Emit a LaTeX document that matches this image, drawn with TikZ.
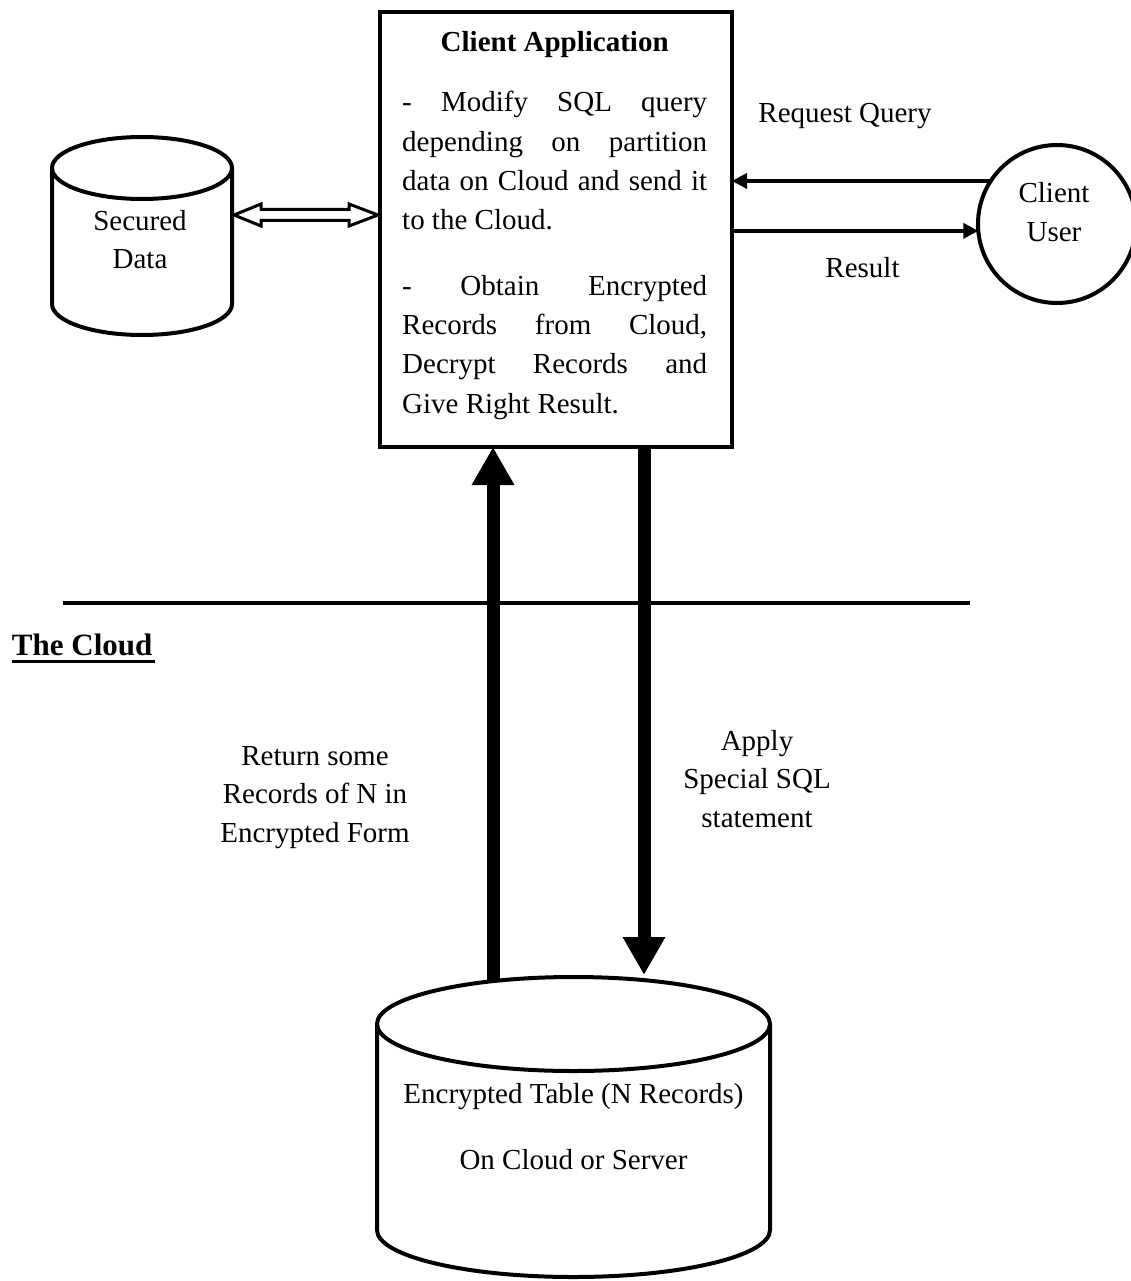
\documentclass[tikz,border=0pt]{standalone}
\usepackage{fontspec}
\setmainfont{Liberation Serif}
\usetikzlibrary{arrows.meta,calc}
% centred multi-line text whose baseline is that of its first line
\newcommand\txtstack[1]{\begin{tabular}[t]{@{}c@{}}#1\end{tabular}}
\tikzset{
  labelfont/.style={font=\fontsize{29}{38.5}\selectfont},
  txt/.style={labelfont, inner sep=0pt, outer sep=0pt, anchor=base},
  region/.style={inner sep=0pt, outer sep=0pt},
  outline/.style={line width=4pt, draw=black},
  flow/.style={line width=4.5pt, -{Triangle[width=15pt,length=15pt]}},
  bigflow/.style={line width=13pt, -{Triangle[width=40pt,length=38pt]}},
  hollow/.style={line width=3pt, draw=black, fill=white, line join=miter},
}
\begin{document}
\begin{tikzpicture}[x=1pt,y=-1pt]
\useasboundingbox (0,0) rectangle (1130,1281);

% ---- main shapes
\node[region, outline, minimum width=352pt, minimum height=435pt] (app) at (556,229.5) {};
\node[region, minimum width=180pt, minimum height=198pt] (sd) at (142,236) {};
\node[region, outline, circle, minimum size=158pt] (cu) at (1057,224) {};
\node[region, minimum width=393pt, minimum height=300pt] (et) at (573.5,1127) {};

% ---- helper coordinates
\coordinate (dy) at (0,215);
\coordinate (upx) at (493,0);
\coordinate (dnx) at (644,0);
\coordinate (divl) at (63,603);
\coordinate (divr) at (970,603);

% ---- divider between client side and the cloud
\draw[line width=4pt] (divl) -- (divr);

% ---- query / result between user and application
\draw[flow] (cu.147.9) -- (cu.147.9 -| app.east);
\draw[flow] (app.east |- cu.185.8) -- (cu.185.8);

% ---- traffic between application and encrypted table
\draw[bigflow] ($(upx |- et.north)+(0,20)$) -- (upx |- app.south);
\draw[bigflow] (dnx |- app.south) -- ($(dnx |- et.north)+(0,-2)$);

% ---- hollow double arrow between secured data and application
\draw[hollow] let \p1=(sd.east |- dy), \p2=(app.west |- dy) in
  (\x1+2pt,\y1) -- (\x1+29pt,\y1+11pt) -- (\x1+29pt,\y1+5.5pt)
  -- (\x2-31pt,\y1+5.5pt) -- (\x2-31pt,\y1+11pt) -- (\x2-2pt,\y1)
  -- (\x2-31pt,\y1-11pt) -- (\x2-31pt,\y1-5.5pt)
  -- (\x1+29pt,\y1-5.5pt) -- (\x1+29pt,\y1-11pt) -- cycle;

% ---- secured data cylinder
\draw[outline, fill=white] ($(sd.north)+(0,31)$) ellipse [x radius=90pt, y radius=31pt];
\draw[outline] ($(sd.north west)+(0,31)$) -- ($(sd.south west)+(0,-31)$)
  arc[start angle=180, end angle=360, x radius=90pt, y radius=31pt]
  -- ($(sd.north east)+(0,31)$);

% ---- encrypted table cylinder
\draw[outline, fill=white] ($(et.north)+(0,47)$) ellipse [x radius=196.5pt, y radius=47pt];
\draw[outline] ($(et.north west)+(0,47)$) -- ($(et.south west)+(0,-47)$)
  arc[start angle=180, end angle=360, x radius=196.5pt, y radius=47pt]
  -- ($(et.north east)+(0,47)$);

% ---- texts
\node[inner sep=0pt, anchor=base west] (apptext) at (402,52) {\parbox[t]{305pt}{%
  \fontsize{29}{39.3}\selectfont
  {\centering\bfseries Client Application\par}
  \vspace{20.7pt}
  - Modify SQL query\linebreak depending on partition\linebreak data on Cloud and send it\linebreak to the Cloud.\par
  \vspace{26pt}
  - Obtain Encrypted\linebreak Records from Cloud,\linebreak Decrypt Records and\linebreak Give Right Result.}};

\node[txt] (sdtext) at (140,230) {\txtstack{Secured\\Data}};
\node[txt] (cutext) at (1054,203) {\txtstack{Client\\User}};
\node[txt] (rq) at (845,123) {Request Query};
\node[txt] (rs) at (862.5,277) {Result};
\node[txt] (ret) at (315,765) {\txtstack{Return some\\Records of N in\\Encrypted Form}};
\node[txt] (apl) at (757,750) {\txtstack{Apply\\Special SQL\\statement}};
\node[txt] (ettext) at (573.5,1103) {\txtstack{Encrypted Table (N Records)\\[27.5pt]On Cloud or Server}};

\node[inner sep=0pt, outer sep=0pt, anchor=base west, font=\fontsize{31}{37}\selectfont\bfseries] (cloud) at (12,655) {The Cloud};
\draw[line width=3pt] ($(cloud.base west)+(0,6)$) -- ($(cloud.base east)+(3,6)$);
\end{tikzpicture}
\end{document}
